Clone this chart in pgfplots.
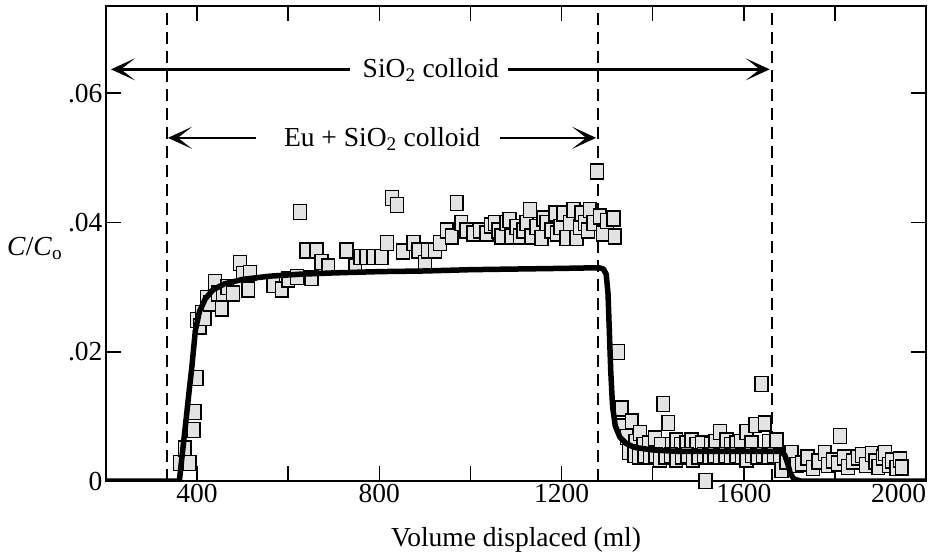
\documentclass[border=0pt]{standalone}
\usepackage{fontspec}
\setmainfont{Liberation Serif}
\usepackage{pgfplots}
\pgfplotsset{compat=1.18}
\usetikzlibrary{arrows.meta}
\newcommand{\bigf}{\fontsize{27.5}{30}\selectfont}
\begin{document}
\begin{tikzpicture}
\useasboundingbox (-106pt,-77pt) rectangle (824pt,481pt);
\begin{axis}[name=ax, at={(0,0)}, anchor=south west, scale only axis,
  width=820pt, height=475pt,
  xmin=200, xmax=2000, ymin=0, ymax=0.0735,
  xtick={400,800,1200,1600,2000},
  xticklabels={400,800,1200,1600,\makebox[0pt][r]{2000}},
  minor xtick={600,1000,1400,1800},
  ytick={0,0.02,0.04,0.06}, yticklabels={0,.02,.04,.06},
  tick align=inside, major tick length=15pt, minor tick length=15pt,
  tick style={black, line width=1.6pt},
  axis line style={line width=1.8pt},
  tick label style={font=\bigf},
  /pgf/number format/assume math mode=true,
  xlabel={Volume displaced (ml)},
  xlabel style={font=\bigf, at={(axis description cs:0.5,-0.124)}, anchor=center},
  clip mode=individual,
]
% dashed boundaries
\addplot[black, line width=2pt, dash pattern=on 12pt off 7pt] coordinates {(333,0) (333,0.0735)};
\addplot[black, line width=2pt, dash pattern=on 12pt off 7pt] coordinates {(1280,0) (1280,0.0735)};
\addplot[black, line width=2pt, dash pattern=on 12pt off 7pt] coordinates {(1662,0) (1662,0.0735)};
% data points
\addplot[only marks, mark=square*, mark size=7.5pt,
  mark options={xscale=0.85, fill=gray!22, draw=black, line width=1.5pt}] coordinates {
(362,0.0028) (373,0.0050) (384,0.0028) (392,0.0079) (395,0.0107) (399,0.0159)
(399,0.0249) (406,0.0239) (411,0.0260) (417,0.0252) (421,0.0283) (428,0.0275)
(439,0.0308) (446,0.0290) (454,0.0267) (457,0.0290) (466,0.0300) (479,0.0290)
(494,0.0337) (501,0.0320) (512,0.0296) (516,0.0322) (567,0.0303) (586,0.0296)
(600,0.0312) (619,0.0316) (626,0.0416) (640,0.0357) (651,0.0314) (662,0.0357)
(673,0.0339) (688,0.0332) (728,0.0357) (747,0.0332) (758,0.0347) (772,0.0347)
(787,0.0347) (805,0.0347) (817,0.0368) (828,0.0438) (839,0.0427) (852,0.0355)
(875,0.0368) (886,0.0357) (900,0.0337) (907,0.0357) (922,0.0357) (933,0.0368)
(948,0.0388) (959,0.0378) (970,0.0430) (980,0.0399) (991,0.0388) (1006,0.0383)
(1021,0.0388) (1035,0.0383) (1045,0.0395) (1054,0.0399) (1061,0.0388) (1068,0.0378)
(1079,0.0399) (1086,0.0404) (1090,0.0378) (1101,0.0393) (1109,0.0378) (1116,0.0388)
(1123,0.0399) (1131,0.0419) (1134,0.0378) (1145,0.0393) (1156,0.0376) (1160,0.0406)
(1167,0.0399) (1178,0.0388) (1186,0.0414) (1190,0.0383) (1197,0.0393) (1204,0.0414)
(1211,0.0376) (1218,0.0399) (1226,0.0419) (1233,0.0376) (1240,0.0393) (1244,0.0414)
(1251,0.0399) (1258,0.0388) (1262,0.0419) (1270,0.0399) (1278,0.0479) (1284,0.0409)
(1291,0.0383) (1300,0.0402) (1314,0.0406) (1317,0.0378)
(1324,0.0200) (1332,0.0112) (1335,0.0084) (1343,0.0068) (1354,0.0092) (1362,0.0060)
(1372,0.0074) (1380,0.0056) (1392,0.0058) (1405,0.0066) (1418,0.0056) (1423,0.0119)
(1434,0.0090) (1442,0.0056) (1452,0.0063) (1462,0.0056) (1474,0.0058) (1485,0.0063)
(1496,0.0056) (1508,0.0058) (1516,0.0000) (1528,0.0056) (1538,0.0060) (1548,0.0076)
(1562,0.0063) (1572,0.0056) (1584,0.0058) (1594,0.0060) (1606,0.0076) (1617,0.0058)
(1625,0.0087) (1639,0.0150) (1646,0.0089) (1655,0.0060) (1672,0.0063)
(1348,0.0045) (1360,0.0040) (1370,0.0038) (1382,0.0040) (1394,0.0038) (1406,0.0040)
(1416,0.0033) (1428,0.0038) (1440,0.0040) (1452,0.0033) (1464,0.0038) (1476,0.0040)
(1488,0.0033) (1500,0.0038) (1512,0.0040) (1524,0.0038) (1536,0.0040) (1548,0.0038)
(1560,0.0040) (1572,0.0038) (1584,0.0040) (1596,0.0038) (1606,0.0033) (1618,0.0040)
(1630,0.0038) (1642,0.0040) (1654,0.0038) (1666,0.0040) (1679,0.0038)
(1683,0.0017) (1694,0.0030) (1705,0.0043) (1716,0.0025) (1727,0.0027) (1740,0.0036)
(1752,0.0020) (1764,0.0030) (1778,0.0043) (1785,0.0025) (1796,0.0032) (1807,0.0027)
(1811,0.0070) (1820,0.0036) (1829,0.0022) (1840,0.0030) (1850,0.0036) (1859,0.0040)
(1868,0.0025) (1881,0.0042) (1889,0.0030) (1895,0.0022) (1905,0.0036) (1910,0.0043)
(1918,0.0025) (1925,0.0032) (1935,0.0020) (1943,0.0033) (1947,0.0021)
};
% model curve
\addplot[black, line width=5.5pt, line join=round] coordinates {
(200,0) (361,0) (368,0.0045) (375,0.0090) (382,0.0136) (389,0.0180) (396,0.0232)
(405,0.0262) (418,0.0282) (435,0.0296) (460,0.0305) (500,0.0312) (560,0.0317)
(626,0.0320) (700,0.0322) (800,0.0324) (900,0.0325) (1000,0.0327) (1100,0.0328)
(1200,0.0329) (1282,0.0330) (1292,0.0328) (1298,0.0320) (1302,0.0290) (1305,0.0230)
(1308,0.0170) (1312,0.0115) (1318,0.0085) (1328,0.0068) (1342,0.0058) (1360,0.0052)
(1400,0.0048) (1450,0.0046) (1550,0.0046) (1650,0.0046) (1682,0.0046) (1690,0.0040)
(1696,0.0028) (1702,0.0012) (1710,0.0003) (1725,0) (2000,0)
};
% annotations
\tikzset{bigarrow/.style={black, line width=2.6pt, -{Stealth[length=24pt,width=22pt,inset=14pt]}}}
\draw[bigarrow] (axis cs:736,0.0637) -- (axis cs:211,0.0637);
\draw[bigarrow] (axis cs:1082,0.0637) -- (axis cs:1657,0.0637);
\node[anchor=base, font=\bigf] at (axis cs:913,0.0624) {SiO\textsubscript{2} colloid};
\draw[bigarrow] (axis cs:530,0.0531) -- (axis cs:336,0.0531);
\draw[bigarrow] (axis cs:1064,0.0531) -- (axis cs:1276,0.0531);
\node[anchor=base, font=\bigf] at (axis cs:806,0.0518) {Eu + SiO\textsubscript{2} colloid};
\node[font=\bigf, anchor=center] at (axis description cs:-0.087,0.49) {\textit{C}/\textit{C}\textsubscript{o}};
\end{axis}
\end{tikzpicture}
\end{document}
